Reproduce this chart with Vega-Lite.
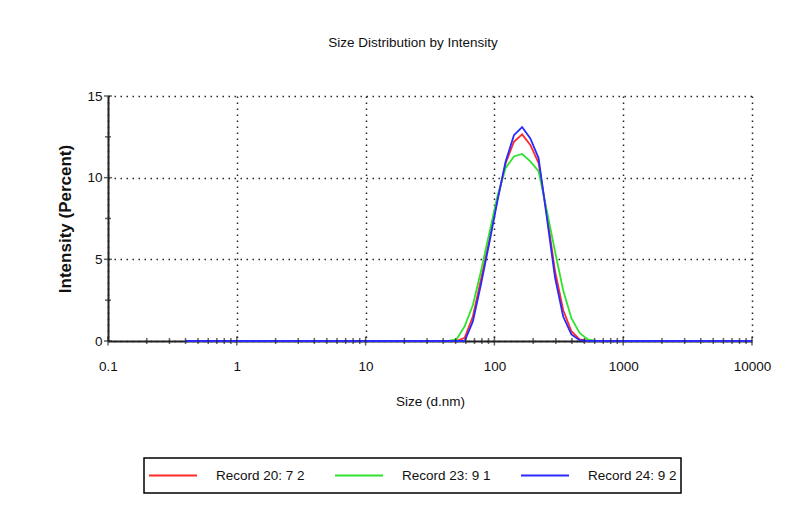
{
  "$schema": "https://vega.github.io/schema/vega-lite/v6.json",
  "autosize": {"type": "none"},
  "width": 644,
  "height": 245,
  "padding": {"left": 108, "top": 96, "right": 51, "bottom": 168},
  "background": "white",
  "title": {
    "text": "Size Distribution by Intensity",
    "font": "Liberation Sans",
    "fontSize": 13.5,
    "fontWeight": "normal",
    "color": "#111111",
    "offset": 40,
    "dx": -17
  },
  "config": {
    "view": {"stroke": null},
    "axis": {
      "domainColor": "#222222",
      "domainWidth": 2,
      "ticks": false,
      "labelFont": "Liberation Sans",
      "labelFontSize": 13.5,
      "labelColor": "#111111",
      "titleColor": "#111111",
      "labelFlush": false,
      "labelOverlap": false,
      "grid": true,
      "gridColor": "#000000",
      "gridDash": [1.5, 4.5],
      "gridWidth": 1.5,
      "gridOpacity": 0.85
    },
    "legend": {
      "orient": "none",
      "legendX": 36,
      "legendY": 362,
      "direction": "horizontal",
      "symbolType": "stroke",
      "symbolSize": 2304,
      "symbolStrokeWidth": 2,
      "labelFont": "Liberation Sans",
      "labelFontSize": 13.5,
      "labelColor": "#111111",
      "labelOffset": 18,
      "labelLimit": 300,
      "columnPadding": 29,
      "strokeColor": "#000000",
      "strokeWidth": 1.5,
      "padding": 4,
      "clipHeight": 27,
      "fillColor": "white"
    }
  },
  "datasets": {
    "curves": [
      {"size": 0.4, "intensity": 0, "record": "Record 20: 7 2"},
      {"size": 50.75, "intensity": 0, "record": "Record 20: 7 2"},
      {"size": 58.77, "intensity": 0.2, "record": "Record 20: 7 2"},
      {"size": 68.06, "intensity": 1.5, "record": "Record 20: 7 2"},
      {"size": 78.82, "intensity": 3.8, "record": "Record 20: 7 2"},
      {"size": 91.28, "intensity": 6.2, "record": "Record 20: 7 2"},
      {"size": 105.7, "intensity": 8.7, "record": "Record 20: 7 2"},
      {"size": 122.4, "intensity": 10.9, "record": "Record 20: 7 2"},
      {"size": 141.8, "intensity": 12.2, "record": "Record 20: 7 2"},
      {"size": 164.2, "intensity": 12.65, "record": "Record 20: 7 2"},
      {"size": 190.1, "intensity": 12.0, "record": "Record 20: 7 2"},
      {"size": 220.2, "intensity": 10.9, "record": "Record 20: 7 2"},
      {"size": 255.0, "intensity": 7.8, "record": "Record 20: 7 2"},
      {"size": 295.3, "intensity": 4.3, "record": "Record 20: 7 2"},
      {"size": 342.0, "intensity": 1.9, "record": "Record 20: 7 2"},
      {"size": 396.1, "intensity": 0.6, "record": "Record 20: 7 2"},
      {"size": 458.7, "intensity": 0.1, "record": "Record 20: 7 2"},
      {"size": 531.2, "intensity": 0, "record": "Record 20: 7 2"},
      {"size": 10000, "intensity": 0, "record": "Record 20: 7 2"},

      {"size": 0.4, "intensity": 0, "record": "Record 23: 9 1"},
      {"size": 43.82, "intensity": 0, "record": "Record 23: 9 1"},
      {"size": 50.75, "intensity": 0.1, "record": "Record 23: 9 1"},
      {"size": 58.77, "intensity": 0.9, "record": "Record 23: 9 1"},
      {"size": 68.06, "intensity": 2.2, "record": "Record 23: 9 1"},
      {"size": 78.82, "intensity": 4.3, "record": "Record 23: 9 1"},
      {"size": 91.28, "intensity": 6.6, "record": "Record 23: 9 1"},
      {"size": 105.7, "intensity": 8.9, "record": "Record 23: 9 1"},
      {"size": 122.4, "intensity": 10.6, "record": "Record 23: 9 1"},
      {"size": 141.8, "intensity": 11.3, "record": "Record 23: 9 1"},
      {"size": 164.2, "intensity": 11.45, "record": "Record 23: 9 1"},
      {"size": 190.1, "intensity": 11.0, "record": "Record 23: 9 1"},
      {"size": 220.2, "intensity": 10.4, "record": "Record 23: 9 1"},
      {"size": 255.0, "intensity": 8.0, "record": "Record 23: 9 1"},
      {"size": 295.3, "intensity": 5.5, "record": "Record 23: 9 1"},
      {"size": 342.0, "intensity": 3.1, "record": "Record 23: 9 1"},
      {"size": 396.1, "intensity": 1.4, "record": "Record 23: 9 1"},
      {"size": 458.7, "intensity": 0.5, "record": "Record 23: 9 1"},
      {"size": 531.2, "intensity": 0.1, "record": "Record 23: 9 1"},
      {"size": 615.1, "intensity": 0, "record": "Record 23: 9 1"},
      {"size": 10000, "intensity": 0, "record": "Record 23: 9 1"},

      {"size": 0.4, "intensity": 0, "record": "Record 24: 9 2"},
      {"size": 58.77, "intensity": 0, "record": "Record 24: 9 2"},
      {"size": 68.06, "intensity": 1.2, "record": "Record 24: 9 2"},
      {"size": 78.82, "intensity": 3.5, "record": "Record 24: 9 2"},
      {"size": 91.28, "intensity": 6.0, "record": "Record 24: 9 2"},
      {"size": 105.7, "intensity": 8.6, "record": "Record 24: 9 2"},
      {"size": 122.4, "intensity": 11.0, "record": "Record 24: 9 2"},
      {"size": 141.8, "intensity": 12.6, "record": "Record 24: 9 2"},
      {"size": 164.2, "intensity": 13.1, "record": "Record 24: 9 2"},
      {"size": 190.1, "intensity": 12.4, "record": "Record 24: 9 2"},
      {"size": 220.2, "intensity": 11.2, "record": "Record 24: 9 2"},
      {"size": 255.0, "intensity": 7.6, "record": "Record 24: 9 2"},
      {"size": 295.3, "intensity": 3.9, "record": "Record 24: 9 2"},
      {"size": 342.0, "intensity": 1.5, "record": "Record 24: 9 2"},
      {"size": 396.1, "intensity": 0.4, "record": "Record 24: 9 2"},
      {"size": 458.7, "intensity": 0.05, "record": "Record 24: 9 2"},
      {"size": 531.2, "intensity": 0, "record": "Record 24: 9 2"},
      {"size": 10000, "intensity": 0, "record": "Record 24: 9 2"}
    ],
    "xMajor": [{"v": 0.1}, {"v": 1}, {"v": 10}, {"v": 100}, {"v": 1000}, {"v": 10000}],
    "xMinor": [
      {"v": 0.2}, {"v": 0.3}, {"v": 0.4}, {"v": 0.5}, {"v": 0.6}, {"v": 0.7}, {"v": 0.8}, {"v": 0.9},
      {"v": 2}, {"v": 3}, {"v": 4}, {"v": 5}, {"v": 6}, {"v": 7}, {"v": 8}, {"v": 9},
      {"v": 20}, {"v": 30}, {"v": 40}, {"v": 50}, {"v": 60}, {"v": 70}, {"v": 80}, {"v": 90},
      {"v": 200}, {"v": 300}, {"v": 400}, {"v": 500}, {"v": 600}, {"v": 700}, {"v": 800}, {"v": 900},
      {"v": 2000}, {"v": 3000}, {"v": 4000}, {"v": 5000}, {"v": 6000}, {"v": 7000}, {"v": 8000}, {"v": 9000}
    ],
    "yMajor": [{"v": 0}, {"v": 5}, {"v": 10}, {"v": 15}],
    "yMinor": [{"v": 2.5}, {"v": 7.5}, {"v": 12.5}]
  },
  "layer": [
    {
      "data": {"name": "curves"},
      "mark": {"type": "line", "strokeWidth": 1.8, "interpolate": "linear"},
      "encoding": {
        "x": {
          "field": "size",
          "type": "quantitative",
          "scale": {"type": "log", "domain": [0.1, 10000], "nice": false},
          "axis": {
            "values": [0.1, 1, 10, 100, 1000, 10000],
            "format": "~g",
            "labelPadding": 18,
            "title": "Size (d.nm)",
            "titleFont": "Liberation Sans",
            "titleFontSize": 13.5,
            "titleFontWeight": "normal",
            "titlePadding": 22
          }
        },
        "y": {
          "field": "intensity",
          "type": "quantitative",
          "scale": {"domain": [0, 15], "nice": false},
          "axis": {
            "values": [0, 5, 10, 15],
            "labelPadding": 6,
            "title": "Intensity (Percent)",
            "titleFont": "Liberation Sans",
            "titleFontSize": 17,
            "titleFontWeight": "bold",
            "titlePadding": 12
          }
        },
        "color": {
          "field": "record",
          "type": "nominal",
          "scale": {
            "domain": ["Record 20: 7 2", "Record 23: 9 1", "Record 24: 9 2"],
            "range": ["#ff2a2a", "#2ee22e", "#2a2aff"]
          },
          "legend": {"title": null}
        }
      }
    },
    {
      "data": {"name": "xMajor"},
      "mark": {"type": "tick", "orient": "vertical", "size": 9, "thickness": 1.5, "color": "#222222"},
      "encoding": {"x": {"field": "v", "type": "quantitative"}, "y": {"datum": 0}}
    },
    {
      "data": {"name": "xMinor"},
      "mark": {"type": "tick", "orient": "vertical", "size": 6, "thickness": 1.5, "color": "#222222"},
      "encoding": {"x": {"field": "v", "type": "quantitative"}, "y": {"datum": 0}}
    },
    {
      "data": {"name": "yMajor"},
      "mark": {"type": "tick", "orient": "horizontal", "size": 8, "thickness": 1.5, "color": "#222222"},
      "encoding": {"x": {"datum": 0.1}, "y": {"field": "v", "type": "quantitative"}}
    },
    {
      "data": {"name": "yMinor"},
      "mark": {"type": "tick", "orient": "horizontal", "size": 6, "thickness": 1.5, "color": "#222222"},
      "encoding": {"x": {"datum": 0.1}, "y": {"field": "v", "type": "quantitative"}}
    }
  ]
}
